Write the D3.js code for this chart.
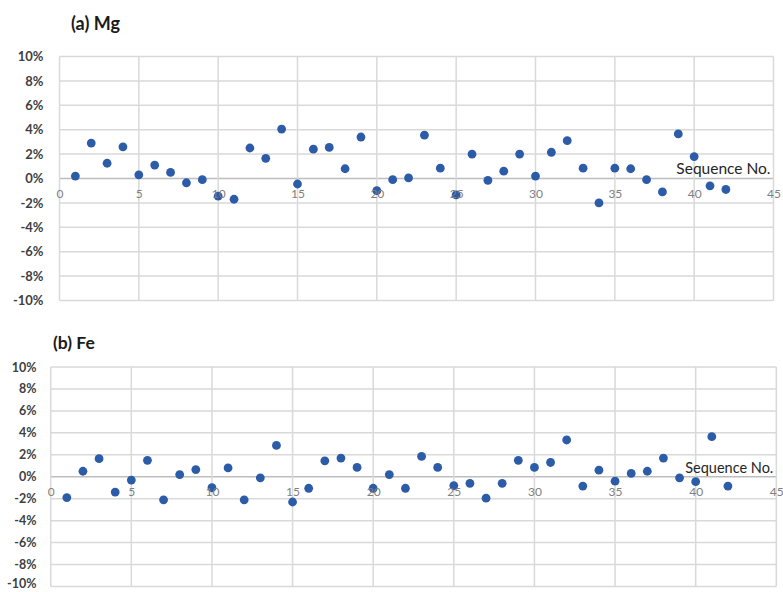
<!DOCTYPE html>
<html>
<head>
<meta charset="utf-8">
<script src="https://cdn.jsdelivr.net/npm/d3@7"></script>
<style>
  html, body { margin: 0; padding: 0; background: #fff; }
  svg { display: block; font-family: Lato, "Open Sans", sans-serif; }
</style>
</head>
<body>
<svg id="chart" width="783" height="592"></svg>
<script>
// Relative deviation per sample, by sequence number (percent)
const sequence = d3.range(1, 43);
const mgDeviation = [
  0.2, 2.9, 1.25, 2.6, 0.3, 1.1, 0.5, -0.35, -0.1, -1.45,
  -1.7, 2.5, 1.65, 4.05, -0.45, 2.4, 2.55, 0.8, 3.4, -1.0,
  -0.1, 0.05, 3.55, 0.85, -1.35, 2.0, -0.15, 0.6, 2.0, 0.2,
  2.15, 3.1, 0.85, -2.0, 0.85, 0.8, -0.1, -1.1, 3.65, 1.8,
  -0.6, -0.9
];
const feDeviation = [
  -1.9, 0.5, 1.65, -1.4, -0.3, 1.5, -2.1, 0.2, 0.65, -1.0,
  0.8, -2.1, -0.1, 2.85, -2.3, -1.05, 1.45, 1.7, 0.85, -1.05,
  0.2, -1.05, 1.85, 0.85, -0.8, -0.6, -1.95, -0.6, 1.5, 0.85,
  1.3, 3.35, -0.85, 0.6, -0.4, 0.3, 0.5, 1.7, -0.1, -0.45,
  3.65, -0.85
];
const xTicks = [0, 5, 10, 15, 20, 25, 30, 35, 40, 45];
const yTicks = [-10, -8, -6, -4, -2, 0, 2, 4, 6, 8, 10];
const panelTitles = ["(a) Mg", "(b) Fe"];
const xAxisTitle = "Sequence No.";

const svg = d3.select("#chart");

const panels = [
  { title: panelTitles[0], values: mgDeviation,
    left: 59.5, right: 773.5, top: 56.5, bottom: 300.5,
    titleX: 71, titleY: 30, titleSize: 18,
    yLabelX: 43.5, yLabelSize: 13, seqSize: 15.5, seqDy: -5, lastLabelLift: 0 },
  { title: panelTitles[1], values: feDeviation,
    left: 50.7, right: 776.3, top: 367, bottom: 586.5,
    titleX: 53, titleY: 349, titleSize: 17.5,
    yLabelX: 36.5, yLabelSize: 12.5, seqSize: 14.5, seqDy: -4, lastLabelLift: 3 }
];

panels.forEach(p => {
  const x = d3.scaleLinear().domain([0, 45]).range([p.left, p.right]);
  const y = d3.scaleLinear().domain([-10, 10]).range([p.bottom, p.top]);
  const g = svg.append("g");

  // grid: horizontal lines at each y tick, vertical at each x tick
  g.append("g").selectAll("line").data(yTicks).join("line")
    .attr("x1", p.left).attr("x2", p.right)
    .attr("y1", d => y(d)).attr("y2", d => y(d))
    .attr("stroke", d => d === 0 ? "#bdbdbd" : "#d9d9d9")
    .attr("stroke-width", 1.5);
  g.append("g").selectAll("line").data(xTicks).join("line")
    .attr("x1", d => x(d)).attr("x2", d => x(d))
    .attr("y1", p.top).attr("y2", p.bottom)
    .attr("stroke", "#d9d9d9")
    .attr("stroke-width", 1.5);

  // y axis labels
  const yAxis = d3.axisLeft(y).tickValues(yTicks)
    .tickFormat(d => d + "%").tickSize(0).tickPadding(0);
  const ya = g.append("g").attr("transform", `translate(${p.yLabelX},0)`).call(yAxis);
  ya.select(".domain").remove();
  ya.selectAll("text")
    .attr("fill", "#404040")
    .style("font-family", "Lato, sans-serif")
    .style("font-weight", "bold")
    .style("font-size", p.yLabelSize + "px");
  // keep the lowest label inside the page edge
  ya.selectAll(".tick").filter(d => d === -10).select("text")
    .attr("dy", (0.32 - p.lastLabelLift / p.yLabelSize) + "em");

  // points
  g.append("g").selectAll("circle").data(p.values).join("circle")
    .attr("cx", (d, i) => x(sequence[i]))
    .attr("cy", d => y(d))
    .attr("r", 4.4)
    .attr("fill", "#2c5ca8");

  // x axis labels, sitting just under the zero line
  const xAxis = d3.axisBottom(x).tickValues(xTicks).tickSize(0).tickPadding(11);
  const xa = g.append("g").attr("transform", `translate(0,${y(0)})`).call(xAxis);
  xa.select(".domain").remove();
  xa.selectAll("text")
    .attr("fill", "#7f7f7f")
    .style("font-family", "Lato, sans-serif")
    .style("font-size", "12px");

  // axis title on the zero line
  g.append("text")
    .attr("x", p.right - 3).attr("y", y(0) + p.seqDy)
    .attr("text-anchor", "end")
    .attr("fill", "#262626")
    .style("font-size", p.seqSize + "px")
    .text(xAxisTitle);

  // panel title
  g.append("text")
    .attr("x", p.titleX).attr("y", p.titleY)
    .attr("fill", "#1a1a1a")
    .style("font-weight", "bold")
    .style("font-size", p.titleSize + "px")
    .text(p.title);
});
</script>
</body>
</html>
